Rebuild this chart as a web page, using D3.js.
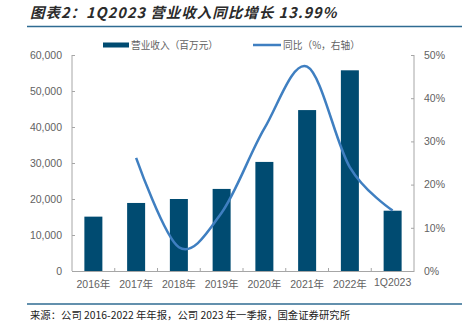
<!DOCTYPE html>
<html>
<head>
<meta charset="utf-8">
<script src="https://cdn.jsdelivr.net/npm/d3@7"></script>
<style>
  body { margin: 0; background: #fff; }
  svg text { font-family: "Liberation Sans", "Noto Sans CJK SC", sans-serif; }
</style>
</head>
<body>
<div id="chart"></div>
<script>
// chart data
var categories = ["2016年", "2017年", "2018年", "2019年", "2020年", "2021年", "2022年", "1Q2023"];
var revenue = [15100, 18900, 20000, 22800, 30300, 44700, 55750, 16750];
var yoy = [null, 26.2, 5.5, 13.5, 33.0, 47.3, 24.0, 13.99];
var leftTicks = [0, 10000, 20000, 30000, 40000, 50000, 60000];
var rightTicks = [0, 10, 20, 30, 40, 50];

var svgWidth = 462, svgHeight = 327;
var margin = {top: 55, right: 48, bottom: 56, left: 72};
var chartWidth = svgWidth - margin.left - margin.right;
var chartHeight = svgHeight - margin.top - margin.bottom;

var svg = d3.select("#chart").append("svg")
  .attr("width", svgWidth)
  .attr("height", svgHeight);

// title + rules
svg.append("text")
  .attr("x", 30).attr("y", 18)
  .attr("font-size", "14.5px")
  .attr("font-weight", "bold")
  .attr("font-style", "italic")
  .attr("letter-spacing", "1px")
  .attr("fill", "#2b2b2b")
  .style("font-family", "'Noto Sans CJK SC', sans-serif")
  .text("图表2：1Q2023 营业收入同比增长 13.99%");

svg.append("line").attr("x1", 27).attr("x2", 462).attr("y1", 26.5).attr("y2", 26.5)
  .attr("stroke", "#2f6b92").attr("stroke-width", 1.5);
svg.append("line").attr("x1", 27).attr("x2", 462).attr("y1", 304).attr("y2", 304)
  .attr("stroke", "#2f6b92").attr("stroke-width", 1.5);

svg.append("text")
  .attr("x", 30).attr("y", 319)
  .attr("font-size", "10.5px")
  .attr("fill", "#222")
  .attr("textLength", 320)
  .attr("lengthAdjust", "spacingAndGlyphs")
  .style("font-family", "'Noto Sans CJK SC', sans-serif")
  .text("来源：公司 2016-2022 年年报，公司 2023 年一季报，国金证券研究所");

var g = svg.append("g").attr("transform", `translate(${margin.left},${margin.top})`);

// scales
var xBand = d3.scaleBand().domain(categories).range([0, chartWidth]);
var yLeft = d3.scaleLinear().domain([0, 60000]).range([chartHeight, 0]);
var yRight = d3.scaleLinear().domain([0, 50]).range([chartHeight, 0]);

// bars
g.selectAll("rect.bar").data(revenue).enter().append("rect")
  .attr("class", "bar")
  .attr("x", (d, i) => xBand(categories[i]) + xBand.bandwidth() / 2 - 9)
  .attr("width", 18)
  .attr("y", d => yLeft(d))
  .attr("height", d => chartHeight - yLeft(d))
  .attr("fill", "#004b71");

// axes
var axisColor = "#a6a6a6";
var labelColor = "#626262";

var leftAxis = d3.axisLeft(yLeft).tickValues(leftTicks).tickSize(-3).tickPadding(10)
  .tickFormat(d3.format(","));
var gl = g.append("g").call(leftAxis);
gl.select(".domain").attr("stroke", axisColor).attr("d", `M0,0V${chartHeight}`);
gl.selectAll(".tick line").attr("stroke", axisColor);
gl.selectAll(".tick text").attr("fill", labelColor).attr("font-size", "10.5px");

var rightAxis = d3.axisRight(yRight).tickValues(rightTicks).tickSize(-3).tickPadding(10)
  .tickFormat(d => d + "%");
var gr = g.append("g").attr("transform", `translate(${chartWidth},0)`).call(rightAxis);
gr.select(".domain").attr("stroke", axisColor).attr("d", `M0,0V${chartHeight}`);
gr.selectAll(".tick line").attr("stroke", axisColor);
gr.selectAll(".tick text").attr("fill", labelColor).attr("font-size", "10.5px");

var bottomAxis = d3.axisBottom(xBand).tickSize(0).tickPadding(10);
var gb = g.append("g").attr("transform", `translate(0,${chartHeight})`).call(bottomAxis);
gb.select(".domain").attr("stroke", axisColor);
gb.selectAll(".tick text").attr("fill", labelColor).attr("font-size", "10.5px")
  .attr("dy", (d, i) => i === 7 ? "0.45em" : "0.71em");
// boundary ticks between categories
g.selectAll("line.sep").data(categories.slice(1)).enter().append("line")
  .attr("class", "sep")
  .attr("x1", d => xBand(d)).attr("x2", d => xBand(d))
  .attr("y1", chartHeight).attr("y2", chartHeight - 3)
  .attr("stroke", axisColor);

// yoy line
var line = d3.line()
  .defined(d => d != null)
  .x((d, i) => xBand(categories[i]) + xBand.bandwidth() / 2)
  .y(d => yRight(d))
  .curve(d3.curveCardinal.tension(0));

g.append("path")
  .datum(yoy)
  .attr("fill", "none")
  .attr("stroke", "#3f7fc1")
  .attr("stroke-width", 2.5)
  .attr("d", line);

// legend
var legend = svg.append("g");
legend.append("rect").attr("x", 103).attr("y", 42.5).attr("width", 26).attr("height", 5).attr("fill", "#004b71");
legend.append("text").attr("x", 131).attr("y", 49).attr("font-size", "10px").attr("fill", labelColor)
  .attr("textLength", 87).attr("lengthAdjust", "spacingAndGlyphs")
  .style("font-family", "'Noto Sans CJK SC', sans-serif")
  .text("营业收入（百万元）");
legend.append("line").attr("x1", 253).attr("x2", 281).attr("y1", 45).attr("y2", 45)
  .attr("stroke", "#3f7fc1").attr("stroke-width", 2.5);
legend.append("text").attr("x", 283).attr("y", 49).attr("font-size", "10px").attr("fill", labelColor)
  .attr("textLength", 77).attr("lengthAdjust", "spacingAndGlyphs")
  .style("font-family", "'Noto Sans CJK SC', sans-serif")
  .text("同比（%，右轴）");
</script>
</body>
</html>
